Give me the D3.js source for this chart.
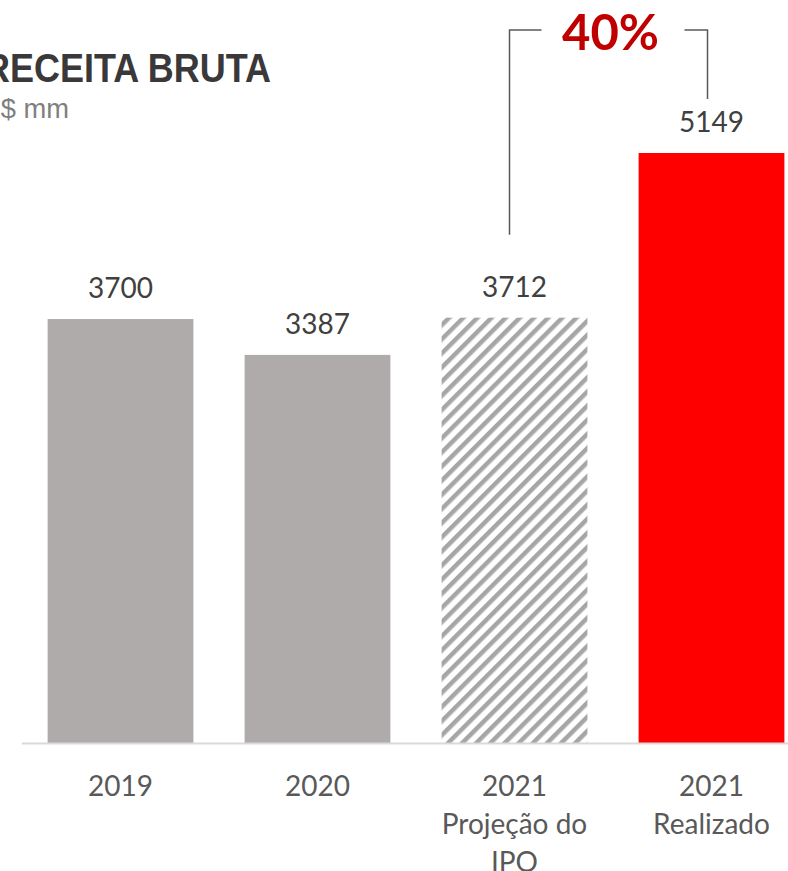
<!DOCTYPE html>
<html>
<head>
<meta charset="utf-8">
<script src="https://cdn.jsdelivr.net/npm/d3@7"></script>
<style>
  html, body { margin: 0; padding: 0; background: #fff; overflow: hidden; }
</style>
</head>
<body>
<div id="chart"></div>
<script>
// Receita bruta (R$ mm)
var categories = ["2019", "2020", "2021\nProjeção do\nIPO", "2021\nRealizado"];
var values = [3700, 3387, 3712, 5149];
var styles = ["solid", "solid", "hatch", "red"];
var growthLabel = "40%";

var width = 788, height = 871;
var baseY = 743, topY = 153;

var svg = d3.select("#chart").append("svg")
    .attr("width", width)
    .attr("height", height);

var defs = svg.append("defs");
var pattern = defs.append("pattern")
    .attr("id", "hatch")
    .attr("patternUnits", "userSpaceOnUse")
    .attr("width", 10)
    .attr("height", 10)
    .attr("patternTransform", "rotate(45)");
pattern.append("rect")
    .attr("width", 10).attr("height", 10)
    .attr("fill", "#fff");
pattern.append("line")
    .attr("x1", 0).attr("y1", 0)
    .attr("x2", 0).attr("y2", 10)
    .attr("stroke", "#a6a6a6")
    .attr("stroke-width", 9);

var x = d3.scaleBand()
    .domain(d3.range(categories.length))
    .range([22, 810])
    .paddingInner(0.26)
    .paddingOuter(0.13);

var y = d3.scaleLinear()
    .domain([0, d3.max(values)])
    .range([baseY, topY]);

var fillFor = { solid: "#afabab", hatch: "url(#hatch)", red: "#ff0000" };

// Bars
svg.append("g").selectAll("rect")
  .data(values)
  .enter().append("rect")
    .attr("x", function(d, i) { return x(i); })
    .attr("y", function(d) { return y(d); })
    .attr("width", x.bandwidth())
    .attr("height", function(d) { return baseY - y(d); })
    .attr("fill", function(d, i) { return fillFor[styles[i]]; });

// Baseline
svg.append("line")
    .attr("x1", 22).attr("x2", width)
    .attr("y1", baseY + 0.5).attr("y2", baseY + 0.5)
    .attr("stroke", "#d9d9d9")
    .attr("stroke-width", 2);

// Value labels
svg.append("g").selectAll("text")
  .data(values)
  .enter().append("text")
    .attr("x", function(d, i) { return x(i) + x.bandwidth() / 2; })
    .attr("y", function(d) { return y(d) - 21; })
    .attr("text-anchor", "middle")
    .style("font-family", "Lato, 'Open Sans', sans-serif")
    .style("font-size", "28px")
    .style("fill", "#404040")
    .text(function(d) { return d; });

// Category labels
var cat = svg.append("g").selectAll("text")
  .data(categories)
  .enter().append("text")
    .attr("text-anchor", "middle")
    .style("font-family", "Lato, 'Open Sans', sans-serif")
    .style("font-size", "28px")
    .style("fill", "#595959");
cat.each(function(d, i) {
  var t = d3.select(this);
  d.split("\n").forEach(function(line, k) {
    t.append("tspan")
      .attr("x", x(i) + x.bandwidth() / 2)
      .attr("y", 796 + k * 38)
      .text(line);
  });
});

// Title (condensed look by squeezing Liberation Sans)
svg.append("text")
    .attr("x", -16).attr("y", 82)
    .attr("textLength", 287)
    .attr("lengthAdjust", "spacingAndGlyphs")
    .style("font-family", "'Liberation Sans', Arial, sans-serif")
    .style("font-weight", "bold")
    .style("font-size", "40px")
    .style("fill", "#3a3838")
    .text("RECEITA BRUTA");
svg.append("text")
    .attr("x", -19).attr("y", 118)
    .attr("textLength", 88)
    .attr("lengthAdjust", "spacingAndGlyphs")
    .style("font-family", "'Liberation Sans', Arial, sans-serif")
    .style("font-size", "27px")
    .style("fill", "#7f7f7f")
    .text("R$ mm");

// Growth bracket from projection to realized
var cx2 = x(2) + x.bandwidth() / 2 - 5,
    cx3 = x(3) + x.bandwidth() / 2 - 4,
    bracketY = 30;
var bracket = svg.append("g")
    .attr("fill", "none")
    .attr("stroke", "#595959")
    .attr("stroke-width", 1.5);
bracket.append("path")
    .attr("d", "M" + cx2 + "," + (y(values[2]) - 83) + "V" + bracketY + "H" + (cx2 + 32));
bracket.append("path")
    .attr("d", "M" + (cx3 - 23) + "," + bracketY + "H" + cx3 + "V" + (y(values[3]) - 54));

svg.append("text")
    .attr("x", (cx2 + cx3) / 2 + 2)
    .attr("y", 50)
    .attr("text-anchor", "middle")
    .style("font-family", "Lato, 'Open Sans', sans-serif")
    .style("font-weight", "bold")
    .style("font-size", "49px")
    .style("fill", "#c00000")
    .text(growthLabel);
</script>
</body>
</html>
